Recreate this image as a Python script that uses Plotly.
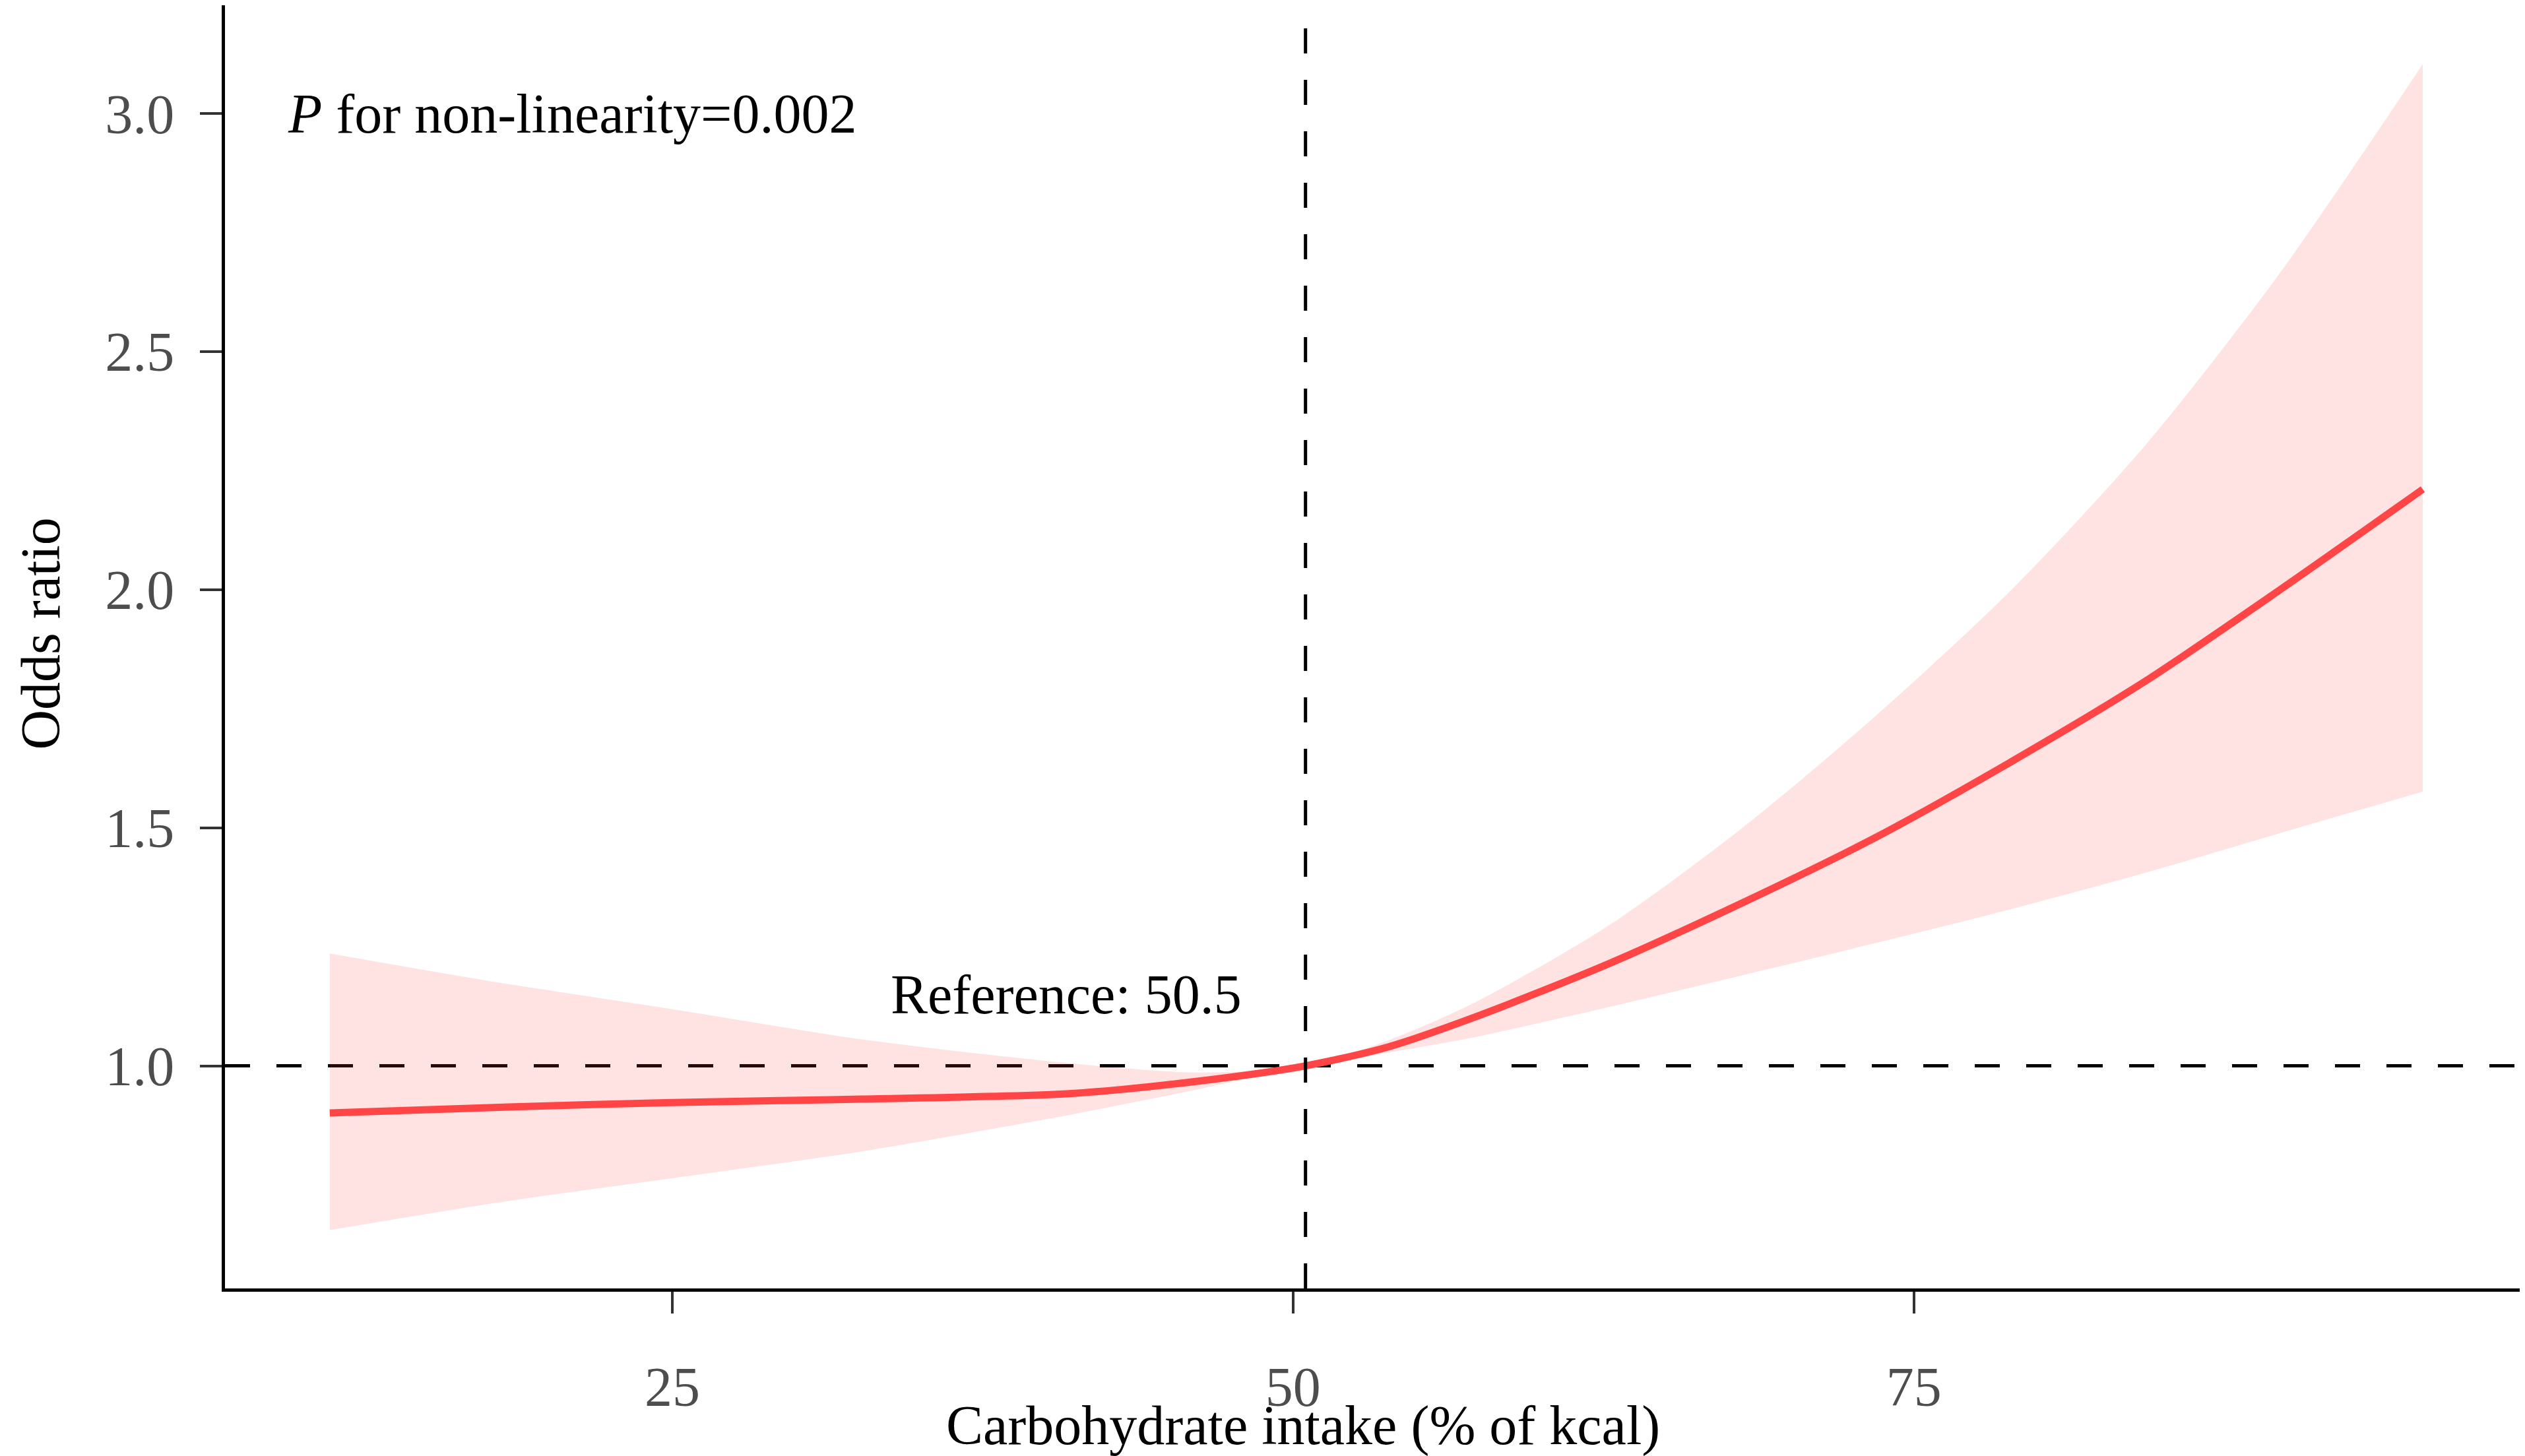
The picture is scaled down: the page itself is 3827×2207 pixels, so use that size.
import plotly.graph_objects as go

carb = [11.2, 18, 25, 32.6, 41.1, 46.2, 50.5, 53.85, 57.2, 62.6, 68.0, 73.4, 78.9, 84.3, 89.7, 95.5]
odds = [0.901, 0.913, 0.923, 0.930, 0.942, 0.968, 1.0, 1.040, 1.100, 1.212, 1.340, 1.478, 1.638, 1.807, 1.998, 2.211]
ci_low = [0.655, 0.713, 0.764, 0.820, 0.898, 0.951, 1.0, 1.028, 1.059, 1.122, 1.189, 1.257, 1.329, 1.405, 1.488, 1.576]
ci_high = [1.236, 1.175, 1.119, 1.056, 1.005, 0.986, 1.0, 1.054, 1.130, 1.291, 1.496, 1.732, 1.998, 2.302, 2.662, 3.104]

ref_x = 50.5
ref_y = 1.0
x_ticks = [25, 50, 75]
y_ticks = [1.0, 1.5, 2.0, 2.5, 3.0]

FONT = "Liberation Serif"
FS = 84
RED = "#ff4545"

fig = go.Figure()

# confidence band
fig.add_trace(go.Scatter(x=carb, y=ci_high, mode="lines",
                         line=dict(width=0, shape="spline", smoothing=0.8),
                         hoverinfo="skip", showlegend=False))
fig.add_trace(go.Scatter(x=carb, y=ci_low, mode="lines",
                         line=dict(width=0, shape="spline", smoothing=0.8),
                         fill="tonexty", fillcolor="rgba(255,69,69,0.15)",
                         hoverinfo="skip", showlegend=False))
# odds ratio curve
fig.add_trace(go.Scatter(x=carb, y=odds, mode="lines",
                         line=dict(color=RED, width=11, shape="spline", smoothing=0.8),
                         showlegend=False))

# reference lines
fig.add_shape(type="line", xref="paper", x0=0, x1=1, yref="y", y0=ref_y, y1=ref_y,
              line=dict(color="black", width=5, dash="38px,40px"), layer="below")
fig.add_shape(type="line", xref="x", x0=ref_x, x1=ref_x, yref="paper", y0=0, y1=1,
              line=dict(color="black", width=5, dash="38px,40px"), layer="above")

fig.add_annotation(x=9.45, y=3.0, xref="x", yref="y", xanchor="left", yanchor="middle",
                   text="<i>P</i> for non-linearity=0.002", showarrow=False,
                   font=dict(family=FONT, size=FS, color="black"))
fig.add_annotation(x=40.85, y=1.15, xref="x", yref="y", xanchor="center", yanchor="middle",
                   text="Reference: " + str(ref_x), showarrow=False,
                   font=dict(family=FONT, size=FS, color="black"))

# axis titles placed as in the (cropped) reference
fig.add_annotation(x=0.4677, y=-0.107, xref="paper", yref="paper", xanchor="center", yanchor="middle",
                   text="Carbohydrate intake (% of kcal)", showarrow=False,
                   font=dict(family=FONT, size=FS, color="black"))
fig.add_annotation(x=-0.080, y=0.5105, xref="paper", yref="paper", xanchor="center", yanchor="middle",
                   text="Odds ratio", textangle=-90, showarrow=False,
                   font=dict(family=FONT, size=FS, color="black"))

axis_common = dict(showgrid=False, zeroline=False, showline=True, linecolor="black",
                   linewidth=5, ticks="outside", ticklen=33, tickwidth=4,
                   tickcolor="#333333", tickfont=dict(family=FONT, size=FS, color="#4d4d4d"))

fig.update_xaxes(range=[6.98, 99.83], tickvals=x_ticks, ticklabelstandoff=39, **axis_common)
fig.update_yaxes(range=[0.5325, 3.2275], tickvals=y_ticks, tickformat=".1f",
                 ticklabelstandoff=22, **axis_common)

fig.update_layout(width=3827, height=2207, plot_bgcolor="white", paper_bgcolor="white",
                  margin=dict(l=333, r=0, t=0, b=262, pad=0))

fig.write_html("out.html")
